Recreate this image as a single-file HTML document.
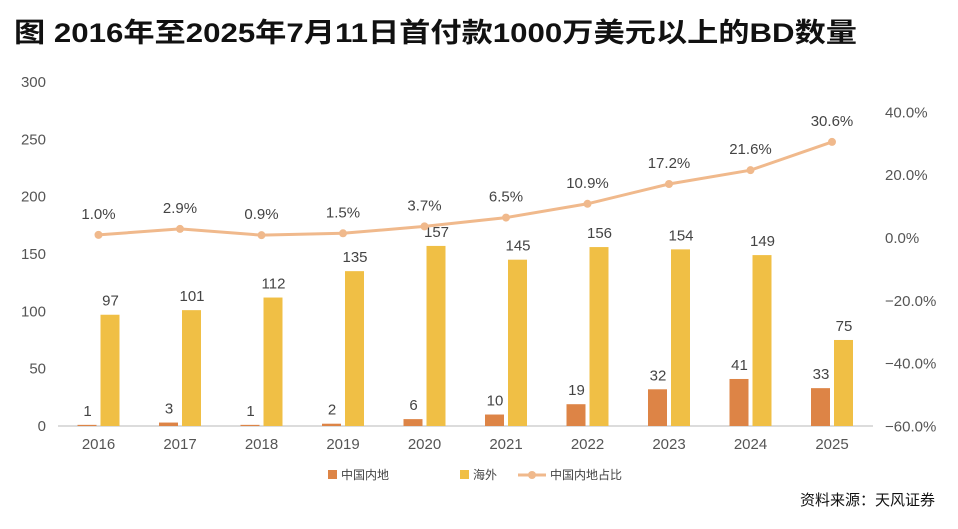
<!DOCTYPE html>
<html><head><meta charset="utf-8"><style>
body{margin:0;background:#fff;width:958px;height:524px;overflow:hidden;font-family:"Liberation Sans","Noto Sans CJK SC",sans-serif;}
text{font-family:"Liberation Sans","Noto Sans CJK SC",sans-serif;}
</style></head><body>
<svg width="958" height="524">
<text x="14" y="42" font-size="27" font-weight="bold" fill="#111" textLength="843" lengthAdjust="spacingAndGlyphs">图 2016年至2025年7月11日首付款1000万美元以上的BD数量</text>
<g id="g"></g>
<text x="935" y="505" font-size="15" fill="#111" text-anchor="end">资料来源：天风证券</text>
</svg>
<script>
const years=["2016","2017","2018","2019","2020","2021","2022","2023","2024","2025"];
const mainland=[1,3,1,2,6,10,19,32,41,33];
const overseas=[97,101,112,135,157,145,156,154,149,75];
const share=[1.0,2.9,0.9,1.5,3.7,6.5,10.9,17.2,21.6,30.6];
const leftTicks=[0,50,100,150,200,250,300];
const rightTicks=[-60,-40,-20,0,20,40];
const NS="http://www.w3.org/2000/svg";
const g=document.getElementById('g');
const base=426,yL=v=>base-v*1.147,yR=p=>238-p*3.14,xC=i=>98.5+i*81.5;
function el(t,a,txt){const e=document.createElementNS(NS,t);for(const k in a)e.setAttribute(k,a[k]);if(txt!=null)e.textContent=txt;g.appendChild(e);return e;}
let e=el('line',{x1:58,x2:873,y1:base,y2:base,stroke:'#d0d0d0','stroke-width':1.5});


leftTicks.forEach(v=>{const t=el('text',{x:46,y:yL(v)+5,'font-size':15,fill:'#555','text-anchor':'end'},v);

});
rightTicks.forEach(v=>{const t=el('text',{x:885,y:yR(v)+5,'font-size':15,fill:'#555'},(v<0?'−':'')+Math.abs(v).toFixed(1)+'%');

});
years.forEach((y,i)=>{
const c=xC(i);
let t=el('text',{x:c,y:449,'font-size':15,fill:'#555','text-anchor':'middle'},y);


let b=el('rect',{x:c-21,y:yL(mainland[i]),width:19,height:base-yL(mainland[i]),fill:'#dd8446'});


let b2=el('rect',{x:c+2,y:yL(overseas[i]),width:19,height:base-yL(overseas[i]),fill:'#f0bf45'});


t=el('text',{x:c-11,y:yL(mainland[i])-9,'font-size':15,fill:'#444','text-anchor':'middle'},mainland[i]);


t=el('text',{x:c+12,y:yL(overseas[i])-9,'font-size':15,fill:'#444','text-anchor':'middle'},overseas[i]);


});
let l=el('polyline',{points:share.map((p,i)=>xC(i)+','+yR(p)).join(' '),fill:'none',stroke:'#f0b98c','stroke-width':3});


share.forEach((p,i)=>{let d=el('circle',{cx:xC(i),cy:yR(p),r:4,fill:'#f0b98c'});


let t=el('text',{x:xC(i),y:yR(p)-16,'font-size':15,fill:'#444','text-anchor':'middle'},p.toFixed(1)+'%');

});
let lg=el('rect',{x:328,y:470,width:9,height:9,fill:'#dd8446'});
let lt=el('text',{x:341,y:479,'font-size':12,fill:'#444'},'中国内地');
lg=el('rect',{x:460,y:470,width:9,height:9,fill:'#f0bf45'});
lt=el('text',{x:473,y:479,'font-size':12,fill:'#444'},'海外');
lg=el('line',{x1:518,x2:546,y1:475,y2:475,stroke:'#f0b98c','stroke-width':3});
lg=el('circle',{cx:532,cy:475,r:4,fill:'#f0b98c'});
lt=el('text',{x:550,y:479,'font-size':12,fill:'#444'},'中国内地占比');
</script>
</body></html>
